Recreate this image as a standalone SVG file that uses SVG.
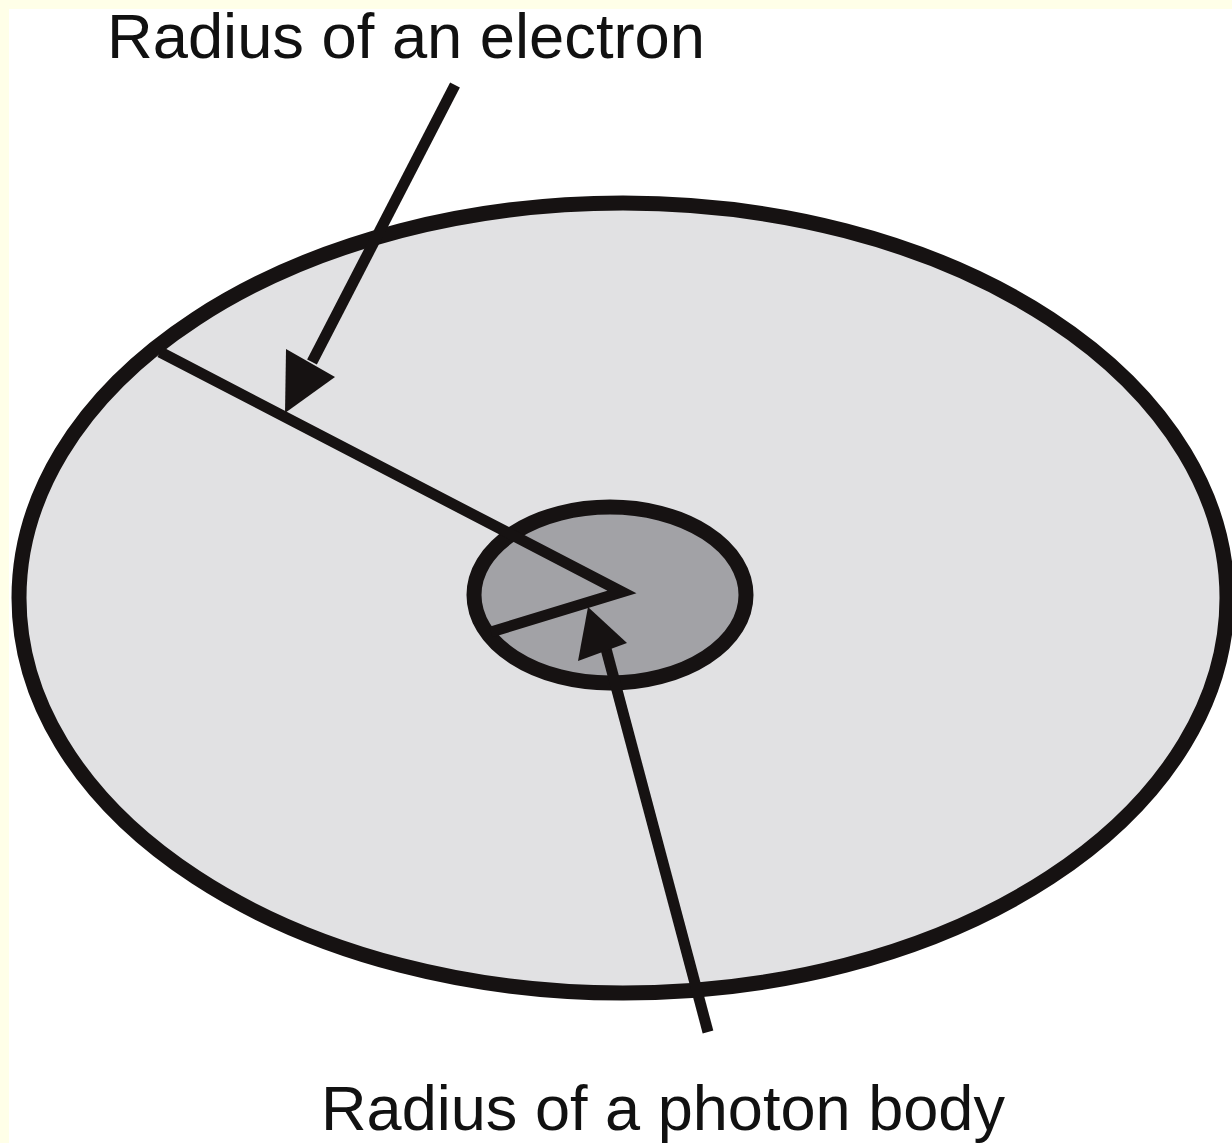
<svg xmlns="http://www.w3.org/2000/svg" width="1232" height="1143" viewBox="0 0 1232 1143">
<style>
.lbl{font-family:"Liberation Sans",Arial,sans-serif;font-size:63px;fill:#111111}
.ln{stroke:#161212;stroke-width:11;fill:none}
.ring{stroke:#161212;stroke-width:15}
.head{fill:#161212}
</style>
<rect x="0" y="0" width="1232" height="1143" fill="#ffffe8"/>
<rect x="9" y="9" width="1223" height="1134" fill="#ffffff"/>
<g id="outer">
<ellipse class="ring" cx="623" cy="598" rx="604" ry="395" fill="#e1e1e3"/>
</g>
<g id="inner">
<ellipse class="ring" cx="610" cy="595" rx="136" ry="88" fill="#a2a2a6"/>
</g>
<g id="radii">
<polyline class="ln" points="160,352 622,592 491,632" stroke-linejoin="miter"/>
</g>
<g id="connectors">
<line class="ln" x1="455" y1="85" x2="312" y2="362"/>
<polygon class="head" points="285,413 286,349 335,377"/>
<line class="ln" x1="708" y1="1032" x2="605" y2="645"/>
<polygon class="head" points="588,607 578,661 627,643"/>
</g>
<g id="label-electron">
<text class="lbl" x="107" y="58" textLength="598" lengthAdjust="spacingAndGlyphs">Radius of an electron</text>
</g>
<g id="label-photon">
<text class="lbl" x="321" y="1130" textLength="684" lengthAdjust="spacingAndGlyphs">Radius of a photon body</text>
</g>
</svg>
